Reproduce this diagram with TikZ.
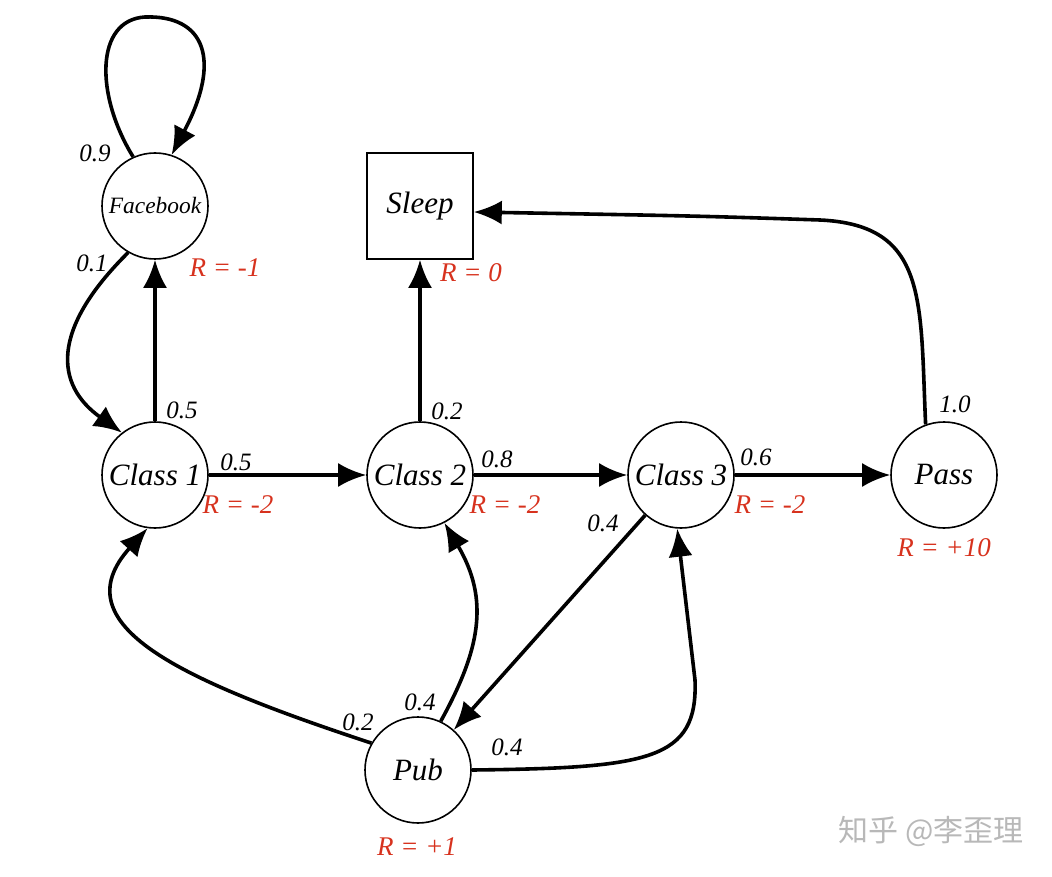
\documentclass[tikz,border=0pt]{standalone}
\usepackage{fontspec}
\setmainfont{Liberation Serif}
\newfontfamily\cjk{Noto Sans CJK SC}
\usetikzlibrary{arrows.meta}
\definecolor{rewardred}{RGB}{215,50,30}
\tikzset{
  statenode/.style={circle, draw, line width=0.8pt, minimum size=53pt, inner sep=0pt,
    font=\fontsize{15.5}{18}\selectfont\itshape},
  endnode/.style={rectangle, draw, line width=0.8pt, minimum size=53pt, inner sep=0pt,
    font=\fontsize{15.5}{18}\selectfont\itshape},
  trans/.style={line width=1.8pt, -{Latex[length=14pt,width=12pt]}},
  prob/.style={font=\fontsize{12.5}{15}\selectfont\itshape},
  reward/.style={text=rewardred, font=\fontsize{13.5}{16}\selectfont\itshape}
}
\begin{document}
\begin{tikzpicture}[x=0.5pt, y=-0.5pt]
        \useasboundingbox (0,0) rectangle (1052,876);
        % states
        \node[statenode, font=\fontsize{11.7}{14}\selectfont\itshape] (fb) at (155,206) {Facebook};
        \node[endnode] (sleep) at (420,206) {Sleep};
        \node[statenode] (c1) at (155,475) {Class 1};
        \node[statenode] (c2) at (420,475) {Class 2};
        \node[statenode] (c3) at (681,475) {Class 3};
        \node[statenode] (pass) at (944,475) {Pass};
        \node[statenode] (pub) at (418,770) {Pub};
        % transitions
        \draw[trans] (fb.114) .. controls (95,95) and (95,20) .. (145,17) .. controls (205,15) and (222,60) .. (fb.72);
        \draw[trans] (fb.240) .. controls (50,330) and (55,385) .. (c1.128);
        \draw[trans] (c1) -- (fb);
        \draw[trans] (c1) -- (c2);
        \draw[trans] (c2) -- (sleep);
        \draw[trans] (c2) -- (c3);
        \draw[trans] (c3) -- (pass);
        \draw[trans] (pass.110) .. controls (920,300) and (928,225) .. (820,220) .. controls (700,216) .. ([yshift=-3pt]sleep.east);
        \draw[trans] (c3) -- (pub);
        \draw[trans] (pub.150) .. controls (180,680) and (60,625) .. (c1.262);
        \draw[trans] (pub.65) .. controls (480,650) and (490,600) .. (c2.297);
        \draw[trans] (pub.east) .. controls (650,768) and (698,760) .. (695,680) -- (c3.266);
        % probabilities
        \node[prob] (p09) at (95,153) {0.9};
        \node[prob] (p01) at (92,263) {0.1};
        \node[prob] (p05a) at (182,410) {0.5};
        \node[prob] (p05b) at (236,462) {0.5};
        \node[prob] (p02a) at (447,411) {0.2};
        \node[prob] (p08) at (497,459) {0.8};
        \node[prob] (p06) at (756,457) {0.6};
        \node[prob] (p04a) at (603,523) {0.4};
        \node[prob] (p10) at (955,404) {1.0};
        \node[prob] (p02b) at (358,722) {0.2};
        \node[prob] (p04b) at (420,702) {0.4};
        \node[prob] (p04c) at (507,747) {0.4};
        % rewards
        \node[reward] (rfb) at (225,268) {R = -1};
        \node[reward] (rsleep) at (471,273) {R = 0};
        \node[reward] (rc1) at (238,505) {R = -2};
        \node[reward] (rc2) at (505,505) {R = -2};
        \node[reward] (rc3) at (770,505) {R = -2};
        \node[reward] (rpass) at (944,548) {R = +10};
        \node[reward] (rpub) at (417,847) {R = +1};
        % watermark
        \node[text=black!28, font=\cjk\fontsize{15}{18}\selectfont] (mark) at (931,831) {知乎 @李歪理};
\end{tikzpicture}
\end{document}
